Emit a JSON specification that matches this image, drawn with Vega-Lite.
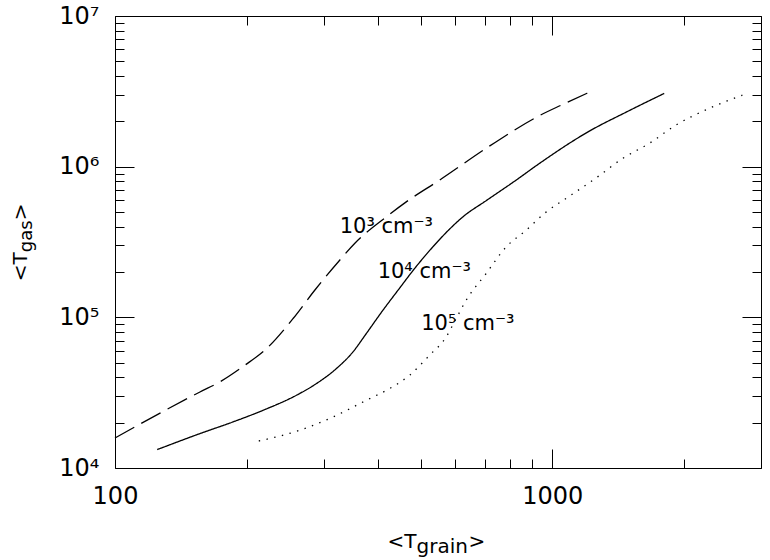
{
  "$schema": "https://vega.github.io/schema/vega-lite/v6.json",
  "width": 646,
  "height": 452,
  "autosize": {"type": "none"},
  "padding": {"left": 115, "top": 16, "right": 9, "bottom": 92},
  "background": "white",
  "config": {"view": {"stroke": null}, "font": "DejaVu Sans"},
  "resolve": {"axis": {"x": "independent", "y": "independent"}},
  "layer": [
    {
      "data": {"values": [
        {"n": "1e3", "tgrain": 100, "tgas": 15820},
        {"n": "1e3", "tgrain": 156.4, "tgas": 31960},
        {"n": "1e3", "tgrain": 173.6, "tgas": 37240},
        {"n": "1e3", "tgrain": 198.1, "tgas": 48080},
        {"n": "1e3", "tgrain": 220.0, "tgas": 60460},
        {"n": "1e3", "tgrain": 255.4, "tgas": 98180},
        {"n": "1e3", "tgrain": 286.2, "tgas": 151300},
        {"n": "1e3", "tgrain": 326.4, "tgas": 239400},
        {"n": "1e3", "tgrain": 353.1, "tgas": 309000},
        {"n": "1e3", "tgrain": 417.2, "tgas": 464200},
        {"n": "1e3", "tgrain": 463.4, "tgas": 583900},
        {"n": "1e3", "tgrain": 552.1, "tgas": 813600},
        {"n": "1e3", "tgrain": 718.0, "tgas": 1368000},
        {"n": "1e3", "tgrain": 934, "tgas": 2181000},
        {"n": "1e3", "tgrain": 1048, "tgas": 2561000},
        {"n": "1e3", "tgrain": 1202, "tgas": 3076000},
        {"n": "1e4", "tgrain": 124.9, "tgas": 13250},
        {"n": "1e4", "tgrain": 156.4, "tgas": 16920},
        {"n": "1e4", "tgrain": 186.0, "tgas": 20210},
        {"n": "1e4", "tgrain": 218.1, "tgas": 24160},
        {"n": "1e4", "tgrain": 259.9, "tgas": 30390},
        {"n": "1e4", "tgrain": 288.8, "tgas": 36340},
        {"n": "1e4", "tgrain": 320.8, "tgas": 45710},
        {"n": "1e4", "tgrain": 350.0, "tgas": 58920},
        {"n": "1e4", "tgrain": 375.5, "tgas": 78060},
        {"n": "1e4", "tgrain": 409.9, "tgas": 111500},
        {"n": "1e4", "tgrain": 447.4, "tgas": 156100},
        {"n": "1e4", "tgrain": 479.8, "tgas": 203900},
        {"n": "1e4", "tgrain": 533.0, "tgas": 293400},
        {"n": "1e4", "tgrain": 581.9, "tgas": 384600},
        {"n": "1e4", "tgrain": 624.2, "tgas": 464200},
        {"n": "1e4", "tgrain": 705.7, "tgas": 594700},
        {"n": "1e4", "tgrain": 826.2, "tgas": 813600},
        {"n": "1e4", "tgrain": 934, "tgas": 1050000},
        {"n": "1e4", "tgrain": 1215, "tgas": 1721000},
        {"n": "1e4", "tgrain": 1475, "tgas": 2301000},
        {"n": "1e4", "tgrain": 1802, "tgas": 3062000},
        {"n": "1e5", "tgrain": 213.2, "tgas": 15110},
        {"n": "1e5", "tgrain": 264.5, "tgas": 17800},
        {"n": "1e5", "tgrain": 315.1, "tgas": 21810},
        {"n": "1e5", "tgrain": 375.5, "tgas": 28150},
        {"n": "1e5", "tgrain": 424.6, "tgas": 33670},
        {"n": "1e5", "tgrain": 471.5, "tgas": 41260},
        {"n": "1e5", "tgrain": 523.9, "tgas": 56020},
        {"n": "1e5", "tgrain": 571.9, "tgas": 74130},
        {"n": "1e5", "tgrain": 602.7, "tgas": 98180},
        {"n": "1e5", "tgrain": 635.3, "tgas": 129900},
        {"n": "1e5", "tgrain": 705.7, "tgas": 195400},
        {"n": "1e5", "tgrain": 784.2, "tgas": 293400},
        {"n": "1e5", "tgrain": 871, "tgas": 378700},
        {"n": "1e5", "tgrain": 958.8, "tgas": 489000},
        {"n": "1e5", "tgrain": 1103, "tgas": 646900},
        {"n": "1e5", "tgrain": 1269, "tgas": 855600},
        {"n": "1e5", "tgrain": 1447, "tgas": 1133000},
        {"n": "1e5", "tgrain": 1665, "tgas": 1426000},
        {"n": "1e5", "tgrain": 1916, "tgas": 1886000},
        {"n": "1e5", "tgrain": 2283, "tgas": 2435000},
        {"n": "1e5", "tgrain": 2720, "tgas": 2984000}
      ]},
      "mark": {"type": "line", "color": "black", "strokeWidth": 1.3, "interpolate": "monotone"},
      "encoding": {
        "x": {
          "field": "tgrain", "type": "quantitative",
          "scale": {"type": "log", "domain": [100, 3000], "nice": false},
          "axis": {
            "orient": "bottom",
            "values": [100, 200, 300, 400, 500, 600, 700, 800, 900, 1000, 2000, 3000],
            "labelExpr": "datum.value == 100 ? '100' : datum.value == 1000 ? '1000' : ''",
            "tickSize": {"condition": {"test": "datum.value == 100 || datum.value == 1000", "value": -19}, "value": -9},
            "labelPadding": 35, "labelFlush": false, "labelOverlap": false, "labelBound": false,
            "labelFont": "DejaVu Sans", "labelFontSize": 24, "labelColor": "#000",
            "title": null, "grid": false, "domainColor": "#000", "tickColor": "#000", "tickWidth": 1
          }
        },
        "y": {
          "field": "tgas", "type": "quantitative",
          "scale": {"type": "log", "domain": [10000, 10000000], "nice": false},
          "axis": {
            "orient": "left",
            "values": [10000, 20000, 30000, 40000, 50000, 60000, 70000, 80000, 90000, 100000, 200000, 300000, 400000, 500000, 600000, 700000, 800000, 900000, 1000000, 2000000, 3000000, 4000000, 5000000, 6000000, 7000000, 8000000, 9000000, 10000000],
            "labelExpr": "datum.value == 10000 ? '10⁴' : datum.value == 100000 ? '10⁵' : datum.value == 1000000 ? '10⁶' : datum.value == 10000000 ? '10⁷' : ''",
            "tickSize": {"condition": {"test": "datum.value == 10000 || datum.value == 100000 || datum.value == 1000000 || datum.value == 10000000", "value": -19}, "value": -9},
            "labelPadding": 35, "labelFlush": false, "labelOverlap": false, "labelBound": false,
            "labelFont": "DejaVu Sans", "labelFontSize": 24, "labelColor": "#000",
            "title": null, "grid": false, "domainColor": "#000", "tickColor": "#000", "tickWidth": 1
          }
        },
        "strokeDash": {
          "field": "n", "type": "nominal",
          "scale": {"domain": ["1e3", "1e4", "1e5"], "range": [[22, 8], [1, 0], [1.4, 6.5]]},
          "legend": null
        }
      }
    },
    {
      "data": {"values": [
        {"label": "10³ cm⁻³", "tgrain": 326.4, "tgas": 361700},
        {"label": "10⁴ cm⁻³", "tgrain": 398.6, "tgas": 181800},
        {"label": "10⁵ cm⁻³", "tgrain": 501.3, "tgas": 82130}
      ]},
      "mark": {"type": "text", "align": "left", "baseline": "alphabetic", "font": "DejaVu Sans", "fontSize": 21, "color": "black"},
      "encoding": {
        "text": {"field": "label"},
        "x": {
          "field": "tgrain", "type": "quantitative",
          "scale": {"type": "log", "domain": [100, 3000], "nice": false},
          "axis": {
            "orient": "top",
            "values": [100, 200, 300, 400, 500, 600, 700, 800, 900, 1000, 2000, 3000],
            "labels": false,
            "tickSize": {"condition": {"test": "datum.value == 100 || datum.value == 1000", "value": -19}, "value": -9},
            "title": null, "grid": false, "domainColor": "#000", "tickColor": "#000", "tickWidth": 1
          }
        },
        "y": {
          "field": "tgas", "type": "quantitative",
          "scale": {"type": "log", "domain": [10000, 10000000], "nice": false},
          "axis": {
            "orient": "right",
            "values": [10000, 20000, 30000, 40000, 50000, 60000, 70000, 80000, 90000, 100000, 200000, 300000, 400000, 500000, 600000, 700000, 800000, 900000, 1000000, 2000000, 3000000, 4000000, 5000000, 6000000, 7000000, 8000000, 9000000, 10000000],
            "labels": false,
            "tickSize": {"condition": {"test": "datum.value == 10000 || datum.value == 100000 || datum.value == 1000000 || datum.value == 10000000", "value": -19}, "value": -9},
            "title": null, "grid": false, "domainColor": "#000", "tickColor": "#000", "tickWidth": 1
          }
        }
      }
    },
    {
      "data": {"values": [{"label": "<T", "tgrain": 489.2, "tgas": 10000}]},
      "mark": {"type": "text", "align": "right", "baseline": "alphabetic", "dy": 80, "font": "DejaVu Sans", "fontSize": 20, "color": "black"},
      "encoding": {
        "text": {"field": "label"},
        "x": {"field": "tgrain", "type": "quantitative", "scale": {"type": "log", "domain": [100, 3000], "nice": false}, "axis": null},
        "y": {"field": "tgas", "type": "quantitative", "scale": {"type": "log", "domain": [10000, 10000000], "nice": false}, "axis": null}
      }
    },
    {
      "data": {"values": [{"label": "grain", "tgrain": 489.2, "tgas": 10000}]},
      "mark": {"type": "text", "align": "left", "baseline": "alphabetic", "dy": 85, "font": "DejaVu Sans", "fontSize": 20, "color": "black"},
      "encoding": {
        "text": {"field": "label"},
        "x": {"field": "tgrain", "type": "quantitative", "scale": {"type": "log", "domain": [100, 3000], "nice": false}, "axis": null},
        "y": {"field": "tgas", "type": "quantitative", "scale": {"type": "log", "domain": [10000, 10000000], "nice": false}, "axis": null}
      }
    },
    {
      "data": {"values": [{"label": ">", "tgrain": 643.0, "tgas": 10000}]},
      "mark": {"type": "text", "align": "left", "baseline": "alphabetic", "dy": 80, "font": "DejaVu Sans", "fontSize": 20, "color": "black"},
      "encoding": {
        "text": {"field": "label"},
        "x": {"field": "tgrain", "type": "quantitative", "scale": {"type": "log", "domain": [100, 3000], "nice": false}, "axis": null},
        "y": {"field": "tgas", "type": "quantitative", "scale": {"type": "log", "domain": [10000, 10000000], "nice": false}, "axis": null}
      }
    },
    {
      "data": {"values": [{"label": "<T", "tgrain": 100, "tgas": 270600}]},
      "mark": {"type": "text", "align": "right", "baseline": "alphabetic", "angle": 270, "dy": -88, "font": "DejaVu Sans", "fontSize": 20, "color": "black"},
      "encoding": {
        "text": {"field": "label"},
        "x": {"field": "tgrain", "type": "quantitative", "scale": {"type": "log", "domain": [100, 3000], "nice": false}, "axis": null},
        "y": {"field": "tgas", "type": "quantitative", "scale": {"type": "log", "domain": [10000, 10000000], "nice": false}, "axis": null}
      }
    },
    {
      "data": {"values": [{"label": "gas", "tgrain": 100, "tgas": 270600}]},
      "mark": {"type": "text", "align": "left", "baseline": "alphabetic", "angle": 270, "dy": -83, "font": "DejaVu Sans", "fontSize": 18, "color": "black"},
      "encoding": {
        "text": {"field": "label"},
        "x": {"field": "tgrain", "type": "quantitative", "scale": {"type": "log", "domain": [100, 3000], "nice": false}, "axis": null},
        "y": {"field": "tgas", "type": "quantitative", "scale": {"type": "log", "domain": [10000, 10000000], "nice": false}, "axis": null}
      }
    },
    {
      "data": {"values": [{"label": ">", "tgrain": 100, "tgas": 441500}]},
      "mark": {"type": "text", "align": "left", "baseline": "alphabetic", "angle": 270, "dy": -88, "font": "DejaVu Sans", "fontSize": 20, "color": "black"},
      "encoding": {
        "text": {"field": "label"},
        "x": {"field": "tgrain", "type": "quantitative", "scale": {"type": "log", "domain": [100, 3000], "nice": false}, "axis": null},
        "y": {"field": "tgas", "type": "quantitative", "scale": {"type": "log", "domain": [10000, 10000000], "nice": false}, "axis": null}
      }
    }
  ]
}
